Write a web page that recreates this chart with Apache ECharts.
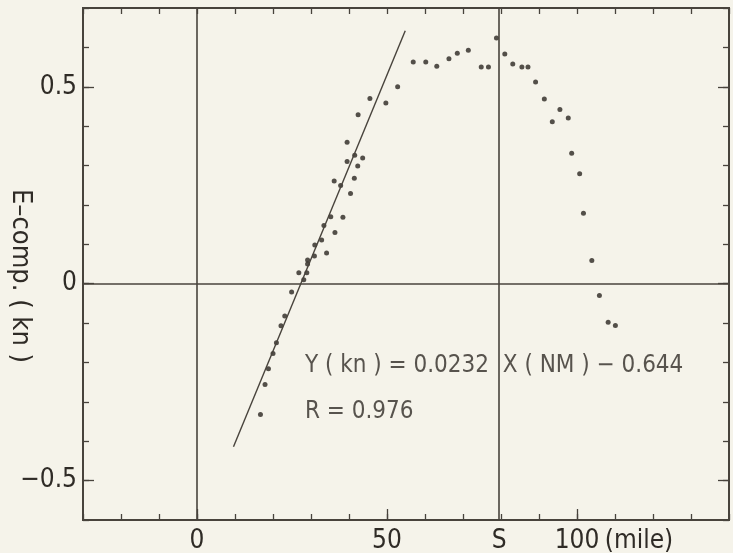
<!DOCTYPE html>
<html>
<head>
<meta charset="utf-8">
<script src="https://cdn.jsdelivr.net/npm/echarts@6/dist/echarts.min.js"></script>
<style>
  html, body { margin: 0; padding: 0; background: #f5f3ea; }
  #chart { width: 733px; height: 553px; }
</style>
</head>
<body>
<div id="chart"></div>
<script>
// observed points (miles, knots)
var ptsX = [16.7, 17.9, 18.8, 20.0, 20.9, 22.1, 23.1, 24.9, 26.8, 28.1, 28.9, 29.1, 29.1, 30.9, 31.0, 32.8,
    34.1, 33.4, 35.2, 36.3, 36.1, 37.8, 38.4, 39.5, 39.5, 40.4, 41.4, 41.5, 42.3, 43.6, 42.4, 45.5, 49.7, 52.8,
    56.9, 60.2, 63.1, 66.3, 68.5, 71.4, 74.8, 76.7, 78.8, 81.0, 83.1, 85.5, 87.1, 89.1, 91.4, 93.5, 95.5,
    97.7, 98.6, 100.7, 101.7, 103.9, 105.9, 108.2, 110.1];
var ptsY = [-0.332, -0.256, -0.216, -0.177, -0.150, -0.107, -0.082, -0.021, 0.028, 0.010, 0.028, 0.060, 0.050,
    0.070, 0.098, 0.111, 0.078, 0.148, 0.170, 0.130, 0.261, 0.249, 0.169, 0.359, 0.310, 0.229, 0.268, 0.326,
    0.299, 0.319, 0.429, 0.470, 0.459, 0.500,
    0.563, 0.563, 0.552, 0.571, 0.585, 0.593, 0.550, 0.550, 0.624, 0.583, 0.558, 0.550, 0.550, 0.512, 0.469,
    0.411, 0.442, 0.421, 0.331, 0.279, 0.179, 0.059, -0.030, -0.098, -0.106];

// fitted line ends
var lineX = [9.6, 54.8];
var lineY = [-0.414, 0.642];

var sPos = 79.5;
var xLabelValues = [0, 50, sPos, 100];
var xLabelTexts = ['0', '50', 'S', '100'];
var yLabelValues = [-0.5, 0, 0.5];
var yLabelTexts = ['\u22120.5', '0', '0.5'];

var eqText = 'Y ( kn ) = 0.0232  X ( NM ) \u2212 0.644';
var rText = 'R = 0.976';
var eqPos = [28.4, -0.208];
var rPos = [28.4, -0.324];

var ink = '#48433c';
var txt = '#2f2b26';
var font = '"Liberation Sans Narrow", "DejaVu Sans Condensed", "Roboto Condensed", Roboto, sans-serif';

var chart = echarts.init(document.getElementById('chart'));

function minorX(pos) {
    return {
        type: 'value', position: pos, min: -30, max: 140, interval: 10,
        axisLine: { show: false, onZero: false },
        axisTick: { show: true, inside: true, length: 6, lineStyle: { color: ink, width: 1.3 } },
        axisLabel: { show: false }, splitLine: { show: false }
    };
}
function minorY(pos) {
    return {
        type: 'value', position: pos, min: -0.6, max: 0.7, interval: 0.1,
        axisLine: { show: false, onZero: false },
        axisTick: { show: true, inside: true, length: 6, lineStyle: { color: ink, width: 1.3 } },
        axisLabel: { show: false }, splitLine: { show: false }
    };
}

var pts = ptsX.map(function (x, i) { return [x, ptsY[i]]; });
var line = lineX.map(function (x, i) { return [x, lineY[i]]; });

var option = {
    backgroundColor: '#f5f3ea',
    animation: false,
    grid: {
        left: 83, right: 4, top: 8, bottom: 33,
        containLabel: false, outerBoundsMode: 'none',
        show: true, borderColor: ink, borderWidth: 2
    },
    xAxis: [
        minorX('bottom'),
        minorX('top'),
        {
            type: 'value', position: 'bottom', min: -30, max: 140,
            axisLine: { show: false, onZero: false },
            axisTick: { show: true, inside: true, length: 11, customValues: [0, 50, 100], lineStyle: { color: ink, width: 1.3 } },
            axisLabel: {
                show: true, customValues: xLabelValues, margin: 8,
                fontFamily: font, fontSize: 26, color: txt,
                formatter: function (v) {
                    var i = xLabelValues.indexOf(v);
                    var s = i >= 0 ? xLabelTexts[i] : '';
                    if (s === '100') return '{p|}{a|100}{b| (mile)}';
                    return s;
                },
                rich: {
                    p: { width: 72 },
                    a: { fontFamily: font, fontSize: 26, color: txt },
                    b: { fontFamily: font, fontSize: 26, color: txt, width: 72 }
                }
            },
            splitLine: { show: false }
        }
    ],
    yAxis: [
        minorY('left'),
        minorY('right'),
        {
            type: 'value', position: 'left', min: -0.6, max: 0.7,
            axisLine: { show: false, onZero: false },
            axisTick: { show: true, inside: true, length: 11, customValues: [-0.5, 0, 0.5], lineStyle: { color: ink, width: 1.3 } },
            axisLabel: {
                show: true, customValues: yLabelValues, margin: 6,
                fontFamily: font, fontSize: 26, color: txt,
                formatter: function (v) {
                    var i = yLabelValues.indexOf(v);
                    return i >= 0 ? yLabelTexts[i] : '';
                }
            },
            name: 'E\u2013comp. ( kn )',
            nameLocation: 'middle', nameRotate: -90, nameGap: 63, nameMoveOverlap: false,
            nameTextStyle: {
                fontFamily: font, fontSize: 27, color: txt,
                align: 'center', verticalAlign: 'middle', padding: [0, 0, 0, 24]
            },
            splitLine: { show: false }
        },
        {
            type: 'value', position: 'right', min: -0.6, max: 0.7,
            axisLine: { show: false, onZero: false },
            axisTick: { show: true, inside: true, length: 11, customValues: [-0.5, 0, 0.5], lineStyle: { color: ink, width: 1.3 } },
            axisLabel: { show: false }, splitLine: { show: false }
        }
    ],
    series: [
        {
            name: 'axes', type: 'line', data: [], xAxisIndex: 0, yAxisIndex: 0,
            markLine: {
                silent: true, symbol: 'none',
                label: { show: false },
                lineStyle: { color: ink, width: 1.6, type: 'solid' },
                data: [{ xAxis: 0 }, { yAxis: 0 }, { xAxis: sPos }]
            }
        },
        {
            name: 'fit', type: 'line', data: line, xAxisIndex: 0, yAxisIndex: 0,
            showSymbol: false, lineStyle: { color: ink, width: 1.4 }
        },
        {
            name: 'obs', type: 'scatter', data: pts, xAxisIndex: 0, yAxisIndex: 0,
            symbolSize: 5, itemStyle: { color: '#2a2621' }
        },
        {
            name: 'notes', type: 'scatter', xAxisIndex: 0, yAxisIndex: 0, symbolSize: 0,
            data: [
                { value: eqPos, label: { formatter: eqText } },
                { value: rPos, label: { formatter: rText } }
            ],
            label: {
                show: true, position: 'inside', align: 'left', verticalAlign: 'middle',
                fontFamily: font, fontSize: 24, color: txt
            }
        }
    ]
};

chart.setOption(option);
</script>
</body>
</html>
